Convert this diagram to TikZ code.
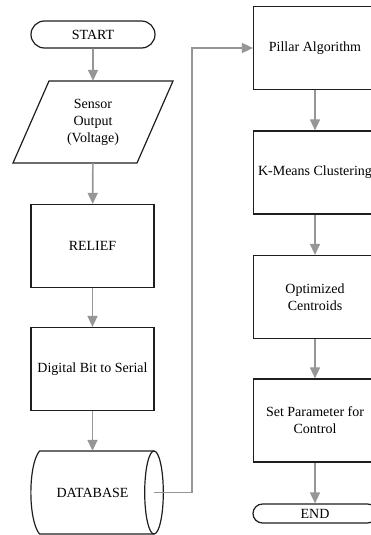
\documentclass[tikz,border=0pt]{standalone}
\usepackage{fontspec}
\setmainfont{Liberation Serif}
\usetikzlibrary{arrows.meta,shapes.misc}
\definecolor{flowgray}{RGB}{150,150,150}
\definecolor{boxline}{RGB}{30,30,30}
\begin{document}
\begin{tikzpicture}[x=1pt,y=-1pt,
  every node/.style={font=\fontsize{14}{17}\selectfont, text=black, align=center, inner sep=0pt},
  procbox/.style={draw=boxline, line width=1.2pt, minimum width=123pt, minimum height=83pt},
  termbox/.style={draw=boxline, line width=1.2pt, rounded rectangle, minimum width=124pt},
  flow/.style={draw=flowgray, line width=1.6pt, -{Triangle[length=11pt,width=10pt]}},
  outline/.style={draw=boxline, line width=1.2pt}]
  \clip (0,0) rectangle (371,535);

  % left column
  \node[termbox, minimum height=27pt] (start) at (93,34.5) {START};
  \node[minimum width=124pt, minimum height=82pt] (sensor) at (93,122) {Sensor\\Output\\(Voltage)};
  \draw[outline] (49,81) -- (173,81) -- (137,163) -- (13,163) -- cycle;
  \node[procbox] (relief) at (92.5,246) {RELIEF};
  \node[procbox] (digital) at (92.5,369) {Digital Bit to Serial};
  \node[minimum width=123pt, minimum height=83pt] (db) at (92.5,492.5) {DATABASE};
  % direct-access storage outline
  \draw[outline] (154,451) -- (39.5,451)
     .. controls (28,465) and (28,520) .. (39.5,534) -- (154,534);
  \draw[outline] (154,492.5) ellipse [x radius=9.3pt, y radius=41.5pt];

  % right column
  \node[procbox] (pillar) at (315,48) {Pillar Algorithm};
  \node[procbox] (kmeans) at (315,172.5) {K-Means Clustering};
  \node[procbox] (optim) at (315,297) {Optimized\\Centroids};
  \node[procbox] (setpar) at (315,420.5) {Set Parameter for\\Control};
  \node[termbox, minimum height=19pt] (end) at (315,513.5) {END};

  % connectors
  \draw[flow] (start) -- (sensor);
  \draw[flow] (sensor) -- (relief);
  \draw[flow] (relief) -- (digital);
  \draw[flow] (digital) -- (db);
  \coordinate (bendlow) at (192,492.5);
  \coordinate (bendhigh) at (192,48);
  \draw[flow] (db.east) -- (bendlow) -- (bendhigh) -- (pillar.west);
  \draw[flow] (pillar) -- (kmeans);
  \draw[flow] (kmeans) -- (optim);
  \draw[flow] (optim) -- (setpar);
  \draw[flow] (setpar) -- (end);
\end{tikzpicture}
\end{document}
